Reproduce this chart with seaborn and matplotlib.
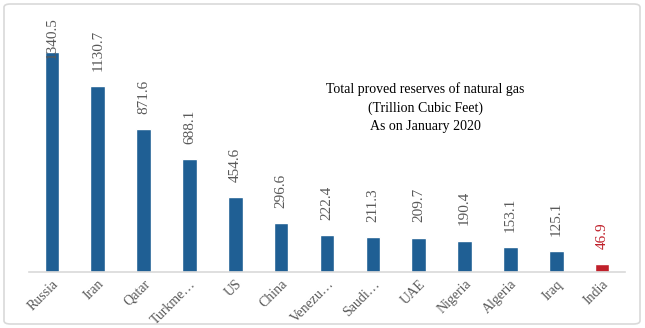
import matplotlib
matplotlib.use("Agg")
import matplotlib.pyplot as plt
import seaborn as sns
import pandas as pd
from matplotlib.patches import FancyBboxPatch

countries = ["Russia", "Iran", "Qatar", "Turkme…", "US", "China", "Venezu…",
             "Saudi…", "UAE", "Nigeria", "Algeria", "Iraq", "India"]
reserves = [1340.5, 1130.7, 871.6, 688.1, 454.6, 296.6, 222.4,
            211.3, 209.7, 190.4, 153.1, 125.1, 46.9]
value_labels = ["1340.5", "1130.7", "871.6", "688.1", "454.6", "296.6", "222.4",
                "211.3", "209.7", "190.4", "153.1", "125.1", "46.9"]
title_lines = ["Total proved reserves of natural gas", "(Trillion Cubic Feet)", "As on January 2020"]

BLUE = "#1F5F94"
RED = "#C0202A"
GRAY = "#595959"

df = pd.DataFrame({"country": countries, "reserves": reserves})
palette = [RED if c == "India" else BLUE for c in countries]

sns.set_theme(style="white")
plt.rcParams["font.family"] = ["Liberation Serif", "DejaVu Serif"]

fig = plt.figure(figsize=(6.45, 3.28), dpi=100)
ax = fig.add_axes([29/645, 1 - 272/328, (625 - 29)/645, (272 - 20)/328])

sns.barplot(data=df, x="country", y="reserves", hue="country", palette=palette,
            legend=False, width=0.32, ax=ax, saturation=1)

ax.set_xlim(-0.5, len(countries) - 0.5)
ax.set_ylim(0, 1535)
ax.set_xlabel("")
ax.set_ylabel("")
ax.set_yticks([])
for s in ["top", "right", "left"]:
    ax.spines[s].set_visible(False)
ax.spines["bottom"].set_color("#D9D9D9")
ax.spines["bottom"].set_linewidth(1.2)
ax.tick_params(axis="x", length=0, pad=4)
plt.setp(ax.get_xticklabels(), rotation=45, ha="right", rotation_mode="anchor",
         color=GRAY, fontsize=10)

for i, (v, lab) in enumerate(zip(reserves, value_labels)):
    off = -5 if i == 0 else 11
    ax.annotate(lab, (i, v), xytext=(0, off), textcoords="offset points",
                rotation=90, ha="center", va="bottom", fontsize=11,
                color=RED if countries[i] == "India" else GRAY, annotation_clip=False)

fig.text(0.659, 0.672, "\n".join(title_lines),
         ha="center", va="center", fontsize=10, color="black", linespacing=1.5)

border = FancyBboxPatch((4/645, 4/328), 636/645, 320/328,
                        boxstyle="round,pad=0,rounding_size=0.01",
                        transform=fig.transFigure, fill=False,
                        edgecolor="#D9D9D9", linewidth=1.2)
fig.patches.append(border)

fig.savefig("out.png", dpi=100)
